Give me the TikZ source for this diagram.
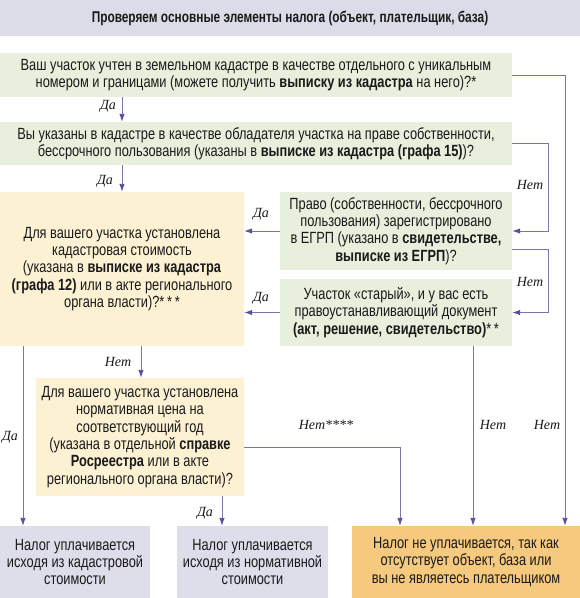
\documentclass[tikz,border=0pt]{standalone}
\usepackage{fontspec}
\setmainfont{Liberation Sans}[FakeStretch=0.79]
\newfontfamily\titlefont{Liberation Sans}[FakeStretch=0.76]
\newfontfamily\lblfont{Liberation Serif}
\usetikzlibrary{arrows.meta}
\definecolor{band}{HTML}{DCDCE9}
\definecolor{greenbox}{HTML}{E8EFDC}
\definecolor{yellowbox}{HTML}{FCF1D3}
\definecolor{graybox}{HTML}{DEDEEB}
\definecolor{orangebox}{HTML}{F5C97E}
\definecolor{linec}{HTML}{7A76AA}
\definecolor{tipc}{HTML}{5A4F9C}
\definecolor{txt}{HTML}{1A1A1A}
\begin{document}
\begin{tikzpicture}[x=1pt,y=-1pt,
  box/.style={rectangle, inner sep=0pt, align=center, text=txt, font=\fontsize{16.2}{17.4}\selectfont},
  ln/.style={draw=linec, line width=0.9pt},
  arr/.style={ln, -{Latex[length=8pt,width=5.5pt,color=tipc]}},
  lab/.style={font=\lblfont\itshape\fontsize{14}{16}\selectfont, text=txt, inner sep=0pt}]
\useasboundingbox (0,0) rectangle (580,598);
% title
\node[box, fill=band, minimum width=580pt, minimum height=36pt, font=\titlefont\bfseries\fontsize{15.6}{16}\selectfont] (title) at (290,18)
  {Проверяем основные элементы налога (объект, плательщик, база)};
% boxes
\node[box, fill=greenbox, minimum width=512pt, minimum height=44pt] (b1) at (256,75)
  {Ваш участок учтен в земельном кадастре в качестве отдельного с уникальным\\
   номером и границами (можете получить \textbf{выписку из кадастра} на него)?*};
\node[box, fill=greenbox, minimum width=512pt, minimum height=43pt] (b2) at (256,143.5)
  {Вы указаны в кадастре в качестве обладателя участка на праве собственности,\\
   бессрочного пользования (указаны в \textbf{выписке из кадастра (графа 15)})?};
\node[box, fill=yellowbox, minimum width=244pt, minimum height=154pt] (y1) at (122,269)
  {Для вашего участка установлена\\
   кадастровая стоимость\\
   (указана в \textbf{выписке из кадастра}\\
   \textbf{(графа 12)} или в акте регионального\\
   органа власти)?*\,*\,*};
\node[box, fill=greenbox, minimum width=232pt, minimum height=78pt] (p) at (396,231)
  {Право (собственности, бессрочного\\
   пользования) зарегистрировано\\
   в ЕГРП (указано в \textbf{свидетельстве,}\\
   \textbf{выписке из ЕГРП})?};
\node[box, fill=greenbox, minimum width=232pt, minimum height=67pt] (u) at (396,312.5)
  {Участок «старый», и у вас есть\\
   правоустанавливающий документ\\
   \textbf{(акт, решение, свидетельство)}*\,*};
\node[box, fill=yellowbox, minimum width=208pt, minimum height=118pt] (y2) at (140,437)
  {Для вашего участка установлена\\
   нормативная цена на\\
   соответствующий год\\
   (указана в отдельной \textbf{справке}\\
   \textbf{Росреестра} или в акте\\
   регионального органа власти)?};
\node[box, fill=graybox, minimum width=150pt, minimum height=72pt] (g1) at (75,562)
  {Налог уплачивается\\ исходя из кадастровой\\ стоимости};
\node[box, fill=graybox, minimum width=151pt, minimum height=72pt] (g2) at (252.5,562)
  {Налог уплачивается\\ исходя из нормативной\\ стоимости};
\node[box, fill=orangebox, minimum width=228pt, minimum height=72pt] (o) at (466,562)
  {Налог не уплачивается, так как\\ отсутствует объект, база или\\ вы не являетесь плательщиком};
% column coordinates
\coordinate (c23) at (23,0);
\coordinate (c122) at (122,0);
\coordinate (c141) at (141,0);
\coordinate (c222) at (222,0);
\coordinate (c400) at (400,0);
\coordinate (c473) at (473,0);
\coordinate (c548) at (548,0);
\coordinate (c565) at (565,0);
% connectors
\draw[arr] (b1.south -| c122) -- (b2.north -| c122);
\draw[arr] (b2.south -| c122) -- (y1.north -| c122);
\draw[arr] (b1.east) -| (o.north -| c565);
\draw[arr] (b2.east) -| (c548 |- p.east) -- (p.east);
\draw[arr] ([yshift=-18pt]p.east) -| (c548 |- u.east) -- (u.east);
\draw[arr] (p.west) -- (p.west -| y1.east);
\draw[arr] (u.west) -- (u.west -| y1.east);
\draw[arr] (u.south -| c473) -- (o.north -| c473);
\draw[arr] (y1.south -| c23) -- (g1.north -| c23);
\draw[arr] (y1.south -| c141) -- (y2.north -| c141);
\draw[arr] ([yshift=-10pt]y2.east) -| (o.north -| c400);
\draw[arr] (y2.south -| c222) -- (g2.north -| c222);
% labels
\node[lab] (l1) at (108,106) {Да};
\node[lab] (l2) at (105,181) {Да};
\node[lab] (l3) at (530,185) {Нет};
\node[lab] (l4) at (261,214) {Да};
\node[lab] (l5) at (530,282) {Нет};
\node[lab] (l6) at (261,298) {Да};
\node[lab] (l7) at (118,362) {Нет};
\node[lab] (l8) at (10,437) {Да};
\node[lab] (l9) at (326,425) {Нет****};
\node[lab] (l10) at (493,425) {Нет};
\node[lab] (l11) at (547,425) {Нет};
\node[lab] (l12) at (205,513) {Да};
\end{tikzpicture}
\end{document}
